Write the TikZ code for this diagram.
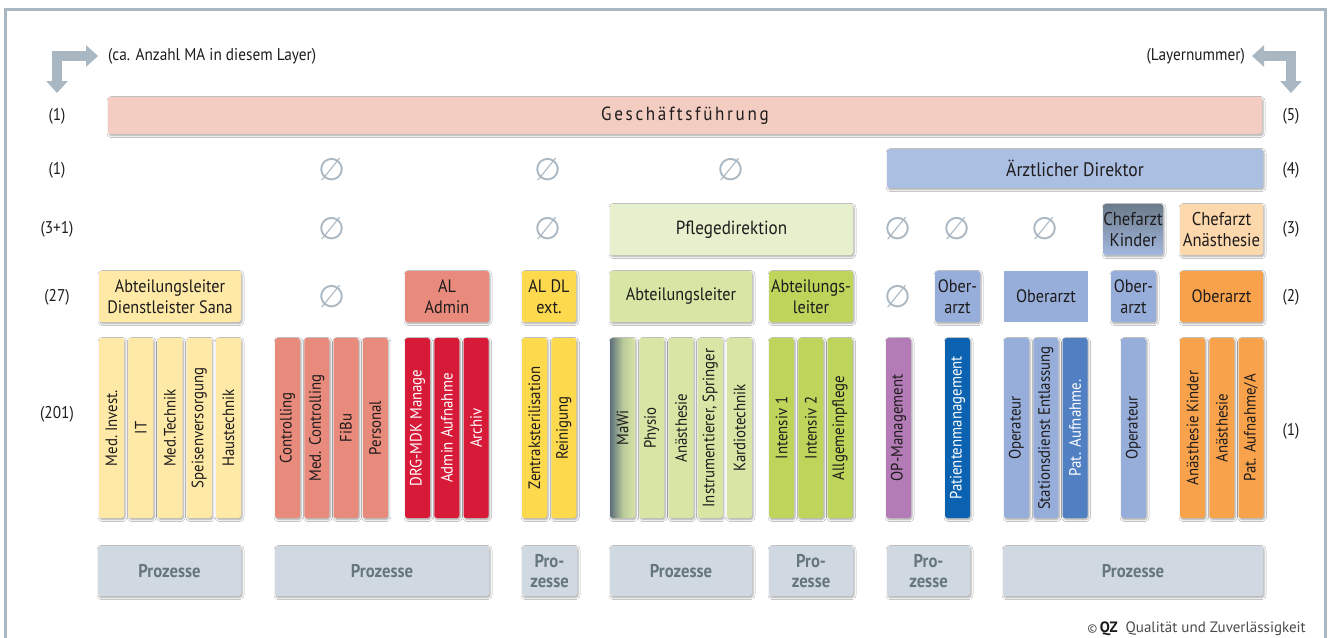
\documentclass[tikz,border=0pt]{standalone}
\usepackage{fontspec}
\setmainfont{PT Sans}[FakeStretch=0.9]
\newfontfamily\symfont{DejaVu Sans}
\newfontfamily\gffont{PT Sans}[FakeStretch=0.9,LetterSpace=14]
\newfontfamily\ftfont{PT Sans}
\usepackage{graphicx}
\usetikzlibrary{arrows.meta,shadows.blur}
\definecolor{frame}{HTML}{A9B7C2}
\definecolor{txt}{HTML}{1E1B1C}
\definecolor{gf}{HTML}{F3CDC1}
\definecolor{ad}{HTML}{ABBFE3}
\definecolor{ylight}{HTML}{FEEAA6}
\definecolor{rlight}{HTML}{E88B7C}
\definecolor{crim}{HTML}{D71A38}
\definecolor{ymid}{HTML}{FDD94E}
\definecolor{gpale}{HTML}{E6F0CC}
\definecolor{glight}{HTML}{D7E6A4}
\definecolor{gmid}{HTML}{BDD55B}
\definecolor{mawi}{HTML}{5C6E7A}
\definecolor{ckt}{HTML}{6B7B8A}
\definecolor{ckb}{HTML}{A3B8DF}
\definecolor{peach}{HTML}{FDD8AC}
\definecolor{bluel}{HTML}{97AEDB}
\definecolor{bluem}{HTML}{5080C2}
\definecolor{blued}{HTML}{0B62B0}
\definecolor{orng}{HTML}{F8A34B}
\definecolor{purp}{HTML}{B47CB6}
\definecolor{proz}{HTML}{D0D9E1}
\definecolor{proztxt}{HTML}{66767F}
\definecolor{footer}{HTML}{4A4A4A}
\tikzset{
  bx/.style={rounded corners=2.5pt, inner sep=0pt, align=center, text=txt,
    font=\fontsize{18}{21}\selectfont,
    blur shadow={shadow xshift=1pt, shadow yshift=-1.5pt, shadow blur steps=5,
      shadow blur radius=2pt, shadow opacity=35}},
  cl/.style={bx, font=\fontsize{16.5}{19}\selectfont},
  lab/.style={font=\fontsize{17}{19}\selectfont, text=txt, inner sep=0pt},
  nul/.style={font=\symfont\fontsize{31}{31}\selectfont, text=frame, inner sep=0pt},
  pz/.style={bx, fill=proz, text=proztxt, font=\bfseries\fontsize{18.5}{20}\selectfont},
  bigarrow/.style={line width=10pt, draw=frame, line join=miter,
    arrows={Triangle[width=21pt,length=12pt]-Triangle[width=21pt,length=12pt]}},
}
% name, x1, y1, x2, y2, style, text
\newcommand\BX[7]{\node[#6, minimum width={(#4-#2)*1pt}, minimum height={(#5-#3)*1pt}] (#1) at ({(#2+#4)/2},{(#3+#5)/2}) {#7};}
% name, x0, style, text
\newcommand\CL[4]{\BX{#1}{#2}{338}{#2+25}{518}{cl, #3}{\rotatebox{90}{#4}}}
\begin{document}
\begin{tikzpicture}[x=1pt,y=-1pt]
\useasboundingbox (0,0) rectangle (1330,637);
\fill[white] (0,0) rectangle (1330,637);
\draw[line width=3pt, frame] (5.5,640) -- (5.5,9.5) -- (1325.5,9.5) -- (1325.5,640);

% corner arrows
\coordinate (la1) at (57,93);
\coordinate (la2) at (98,56);
\draw[bigarrow] (la1) |- (la2);
\coordinate (ra1) at (1252,56);
\coordinate (ra2) at (1291,93);
\draw[bigarrow] (ra1) -| (ra2);
\node[lab, anchor=west] (hl) at (108,56) {(ca. Anzahl MA in diesem Layer)};
\node[lab, anchor=east] (hr) at (1245,56) {(Layernummer)};

% layer labels
\node[lab] (l5) at (57,116) {(1)};
\node[lab] (l4) at (57,170) {(1)};
\node[lab] (l3) at (57,229) {(3+1)};
\node[lab] (l2) at (57,297) {(27)};
\node[lab] (l1) at (57,414) {(201)};
\node[lab] (r5) at (1291,116) {(5)};
\node[lab] (r4) at (1291,170) {(4)};
\node[lab] (r3) at (1291,229) {(3)};
\node[lab] (r2) at (1291,297) {(2)};
\node[lab] (r1) at (1291,431) {(1)};

% empty markers
\node[nul] (n1) at (332,170) {∅};
\node[nul] (n2) at (548,170) {∅};
\node[nul] (n3) at (731,170) {∅};
\node[nul] (n4) at (332,229) {∅};
\node[nul] (n5) at (548,229) {∅};
\node[nul] (n6) at (898,229) {∅};
\node[nul] (n7) at (957,229) {∅};
\node[nul] (n8) at (1045,229) {∅};
\node[nul] (n9) at (332,297) {∅};
\node[nul] (n10) at (898,297) {∅};

% layer 5 / 4
\BX{gf}{108}{97}{1262}{134}{bx, fill=gf, font=\gffont\fontsize{19}{21}\selectfont}{Geschäftsführung}
\BX{ad}{887}{149}{1263}{188}{bx, fill=ad, font=\fontsize{19.5}{21}\selectfont}{Ärztlicher Direktor}

% layer 3
\BX{pd}{610}{204}{853}{255}{bx, fill=gpale, font=\fontsize{19}{21}\selectfont}{Pflegedirektion}
\BX{ck}{1103}{204}{1163}{255}{bx, top color=ckt, bottom color=ckb, font=\fontsize{18.5}{21}\selectfont}{Chefarzt\\Kinder}
\BX{ca}{1180}{204}{1263}{255}{bx, fill=peach, font=\fontsize{18.5}{21}\selectfont}{Chefarzt\\Anästhesie}

% layer 2
\BX{als}{99}{271}{241}{322}{bx, fill=ylight}{Abteilungsleiter\\Dienstleister Sana}
\BX{ala}{405}{271}{489}{322}{bx, fill=rlight}{AL\\Admin}
\BX{ald}{522}{271}{576}{322}{bx, fill=ymid}{AL DL\\ext.}
\BX{al1}{610}{271}{752}{322}{bx, fill=glight}{Abteilungsleiter}
\BX{al2}{769}{271}{853}{322}{bx, fill=gmid}{Abteilungs-\\leiter}
\BX{oa1}{935}{271}{980}{322}{bx, fill=bluel}{Ober-\\arzt}
\BX{oa2}{1004}{271}{1088}{322}{inner sep=0pt, align=center, text=txt, font=\fontsize{18}{21}\selectfont, fill=bluel}{Oberarzt}
\BX{oa3}{1111}{271}{1156}{322}{bx, fill=bluel}{Ober-\\arzt}
\BX{oa4}{1180}{271}{1263}{322}{bx, fill=orng}{Oberarzt}

% layer 1
\CL{c1}{99}{fill=ylight}{Med.\ Invest.}
\CL{c2}{128.25}{fill=ylight}{IT}
\CL{c3}{157.5}{fill=ylight}{Med.Technik}
\CL{c4}{186.75}{fill=ylight}{Speisenversorgung}
\CL{c5}{216}{fill=ylight}{Haustechnik}
\CL{c6}{275}{fill=rlight}{Controlling}
\CL{c7}{304.25}{fill=rlight}{Med. Controlling}
\CL{c8}{333.5}{fill=rlight}{FiBu}
\CL{c9}{362.75}{fill=rlight}{Personal}
\CL{c10}{405}{fill=crim, text=white}{DRG-MDK Manage}
\CL{c11}{434.25}{fill=crim, text=white}{Admin Aufnahme}
\CL{c12}{463.5}{fill=crim, text=white}{Archiv}
\CL{c13}{522}{fill=ymid}{Zentraksterilisation}
\CL{c14}{551.25}{fill=ymid}{Reinigung}
\CL{c15}{610}{left color=mawi, right color=glight, middle color=glight!75!mawi}{MaWi}
\CL{c16}{639.25}{fill=glight}{Physio}
\CL{c17}{668.5}{fill=glight}{Anästhesie}
\CL{c18}{697.75}{fill=glight}{Instrumentierer, Springer}
\CL{c19}{727}{fill=glight}{Kardiotechnik}
\CL{c20}{769}{fill=gmid}{Intensiv 1}
\CL{c21}{798.25}{fill=gmid}{Intensiv 2}
\CL{c22}{827.5}{fill=gmid}{Allgemeinpflege}
\CL{c23}{886}{fill=purp}{OP-Management}
\CL{c24}{945}{fill=blued, text=white}{Patientenmanagement}
\CL{c25}{1004}{fill=bluel}{Operateur}
\CL{c26}{1033.25}{fill=bluel}{Stationsdienst Entlassung}
\CL{c27}{1062.5}{fill=bluem, text=white}{Pat. Aufnahme.}
\CL{c28}{1121}{fill=bluel}{Operateur}
\CL{c29}{1180}{fill=orng}{Anästhesie Kinder}
\CL{c30}{1209.25}{fill=orng}{Anästhesie}
\CL{c31}{1238.5}{fill=orng}{Pat. Aufnahme/A}

% processes
\BX{p1}{98}{546}{241}{596}{pz}{Prozesse}
\BX{p2}{275}{546}{489}{596}{pz}{Prozesse}
\BX{p3}{522}{546}{577}{596}{pz}{Pro-\\zesse}
\BX{p4}{610}{546}{752}{596}{pz}{Prozesse}
\BX{p5}{769}{546}{853}{596}{pz}{Pro-\\zesse}
\BX{p6}{887}{546}{970}{596}{pz}{Pro-\\zesse}
\BX{p7}{1003}{546}{1263}{596}{pz}{Prozesse}

% footer
\node[anchor=east, inner sep=0pt, text=footer, font=\ftfont\fontsize{15}{16}\selectfont] (ft) at (1306,629) {{\fontsize{12}{12}\selectfont\textcopyright}\,{\color{txt}\bfseries QZ}\ \ Qualität und Zuverlässigkeit};
\end{tikzpicture}
\end{document}
